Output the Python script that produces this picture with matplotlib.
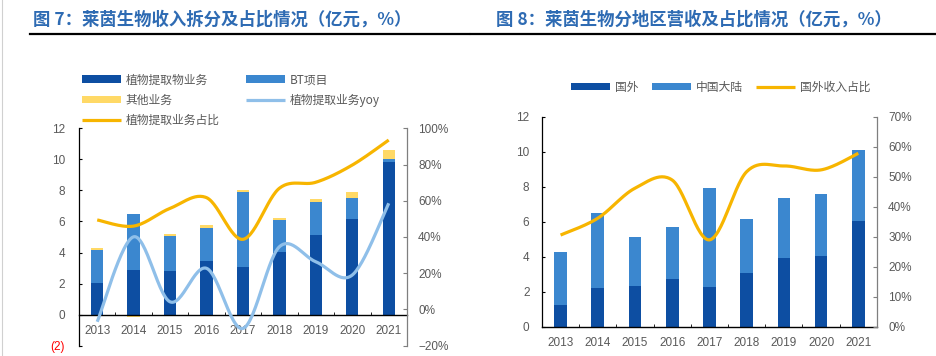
import numpy as np
import matplotlib
matplotlib.use('Agg')
import matplotlib.pyplot as plt
from matplotlib.lines import Line2D
from matplotlib.ticker import PercentFormatter

plt.rcParams['font.family'] = ['Liberation Sans', 'Noto Sans CJK SC', 'DejaVu Sans']

years = ['2013', '2014', '2015', '2016', '2017', '2018', '2019', '2020', '2021']

# 图7 收入拆分（亿元）
plant = [2.03, 2.87, 2.78, 3.43, 3.04, 4.03, 5.13, 6.16, 9.81]
bt = [2.13, 3.62, 2.26, 2.17, 4.85, 2.07, 2.13, 1.32, 0.21]
other = [0.13, -0.15, 0.13, 0.15, 0.15, 0.13, 0.18, 0.41, 0.56]
plant_yoy = [-6.8, 40.1, 4.2, 22.7, -10.5, 34.6, 26.3, 19.0, 58.6]
plant_share = [49.4, 46.0, 55.8, 61.7, 38.7, 66.9, 70.2, 79.7, 93.5]

# 图8 分地区营收（亿元）
overseas = [1.25, 2.24, 2.36, 2.72, 2.28, 3.10, 3.94, 4.07, 6.03]
mainland = [3.01, 4.24, 2.77, 2.98, 5.63, 3.08, 3.40, 3.50, 4.07]
overseas_share = [30.6, 36.2, 46.2, 48.9, 29.0, 51.7, 53.6, 52.3, 57.8]

DARK = '#0D4EA2'
MID = '#3B87CF'
YEL = '#FFD966'
GOLD = '#F7B500'
LIGHT = '#8FBFE9'
GREY = '#595959'
TITLE = '#2E6BB3'
CJK = ['Noto Sans CJK SC', 'DejaVu Sans']


def smooth(xs, ys, n=30):
    # Excel-style smoothed line (Bezier through the points)
    pts = np.column_stack([xs, ys]).astype(float)
    p = np.vstack([pts[0], pts, pts[-1]])
    t = np.linspace(0, 1, n)[:, None]
    segs = []
    for i in range(1, len(p) - 2):
        p0, p1, p2, p3 = p[i - 1], p[i], p[i + 1], p[i + 2]
        c1 = p1 + (p2 - p0) / 6
        c2 = p2 - (p3 - p1) / 6
        segs.append((1 - t) ** 3 * p1 + 3 * (1 - t) ** 2 * t * c1 + 3 * (1 - t) * t ** 2 * c2 + t ** 3 * p2)
    s = np.vstack(segs)
    return s[:, 0], s[:, 1]


def style_axes(ax, ax2, ypad, y2pad, xpad):
    for s in ['top', 'right']:
        ax.spines[s].set_visible(False)
    for s in ['top', 'left', 'bottom']:
        ax2.spines[s].set_visible(False)
    ax.spines['left'].set_color('black')
    ax.spines['left'].set_linewidth(0.9)
    ax.spines['bottom'].set_color('black')
    ax.spines['bottom'].set_linewidth(1.0)
    ax2.spines['right'].set_color('#7F7F7F')
    ax2.spines['right'].set_linewidth(0.9)
    ax.tick_params(axis='y', direction='in', length=2.5, pad=ypad, labelsize=8.5, labelcolor=GREY)
    ax2.tick_params(axis='y', direction='in', length=3, pad=y2pad, labelsize=8.5, labelcolor=GREY, color='#7F7F7F')
    ax.set_xticks(range(len(years)))
    ax.set_xticklabels(years)
    ax.set_xticks(np.arange(-0.5, len(years), 1.0), minor=True)
    ax.tick_params(axis='x', which='major', length=0, pad=xpad, labelsize=8.5, labelcolor=GREY)
    ax.tick_params(axis='x', which='minor', direction='in', length=2.5)
    ax.set_xlim(-0.5, len(years) - 0.5)


fig = plt.figure(figsize=(9.37, 3.56), dpi=100)
x = np.arange(len(years))
w = 0.34

# ---------- 图7 ----------
ax = fig.add_axes([0.0843, 0.029, 0.350, 0.6107])
ax2 = ax.twinx()
b1 = ax.bar(x, plant, w, color=DARK, label='植物提取物业务')
b2 = ax.bar(x, bt, w, bottom=plant, color=MID, label='BT项目')
ob = [p + b if o >= 0 else 0 for p, b, o in zip(plant, bt, other)]
b3 = ax.bar(x, other, w, bottom=ob, color=YEL, label='其他业务')
ax.set_ylim(-2, 12)
ax.set_yticks(range(-2, 13, 2))
ax.set_yticklabels(['(2)'] + [str(v) for v in range(0, 13, 2)])
ax.spines['bottom'].set_position(('data', 0))
sx, sy = smooth(x, plant_yoy)
l1, = ax2.plot(sx, sy, color=LIGHT, lw=2.3, solid_capstyle='butt', label='植物提取业务yoy')
sx, sy = smooth(x, plant_share)
l2, = ax2.plot(sx, sy, color=GOLD, lw=2.3, solid_capstyle='butt', label='植物提取业务占比')
ax2.set_ylim(-20, 100)
ax2.set_yticks(range(-20, 101, 20))
ax2.yaxis.set_major_formatter(PercentFormatter(decimals=0))
style_axes(ax, ax2, 10, 8, 7.5)
ax.get_yticklabels()[0].set_color('red')

leg = fig.legend([b1, b3, l2, b2, l1],
                 ['植物提取物业务', '其他业务', '植物提取业务占比', 'BT项目', '植物提取业务yoy'],
                 ncol=2, loc='upper left', bbox_to_anchor=(0.082, 0.807), frameon=False,
                 prop={'family': CJK, 'size': 8.5}, handlelength=3.3, handleheight=0.62,
                 handletextpad=0.4, columnspacing=2.3, labelspacing=0.62, borderaxespad=0)
for t in leg.get_texts():
    t.set_color(GREY)

# ---------- 图8 ----------
bx = fig.add_axes([0.5784, 0.0815, 0.3575, 0.5907])
bx2 = bx.twinx()
c1 = bx.bar(x, overseas, w, color=DARK, label='国外')
c2 = bx.bar(x, mainland, w, bottom=overseas, color=MID, label='中国大陆')
bx.set_ylim(0, 12)
bx.set_yticks(range(0, 13, 2))
sx, sy = smooth(x, overseas_share)
l3, = bx2.plot(sx, sy, color=GOLD, lw=2.3, solid_capstyle='butt', label='国外收入占比')
bx2.set_ylim(0, 70)
bx2.set_yticks(range(0, 71, 10))
bx2.yaxis.set_major_formatter(PercentFormatter(decimals=0))
style_axes(bx, bx2, 9, 8, 7.5)

leg2 = fig.legend([c1, c2, l3], ['国外', '中国大陆', '国外收入占比'],
                  ncol=3, loc='upper left', bbox_to_anchor=(0.6045, 0.787), frameon=False,
                  prop={'family': CJK, 'size': 8.5}, handlelength=3.3, handleheight=0.62,
                  handletextpad=0.4, columnspacing=1.15, borderaxespad=0)
for t in leg2.get_texts():
    t.set_color(GREY)

# ---------- titles ----------
fig.text(0.035, 0.944, '图 7：莱茵生物收入拆分及占比情况（亿元，%）', family=CJK,
         fontsize=12.5, fontweight='bold', color=TITLE, va='center', ha='left')
fig.text(0.529, 0.944, '图 8：莱茵生物分地区营收及占比情况（亿元，%）', family=CJK,
         fontsize=12.5, fontweight='bold', color=TITLE, va='center', ha='left')
fig.add_artist(Line2D([30 / 937, 469 / 937], [1 - 33.5 / 356] * 2, color='black', lw=1.6))
fig.add_artist(Line2D([471 / 937, 935 / 937], [1 - 33.5 / 356] * 2, color='black', lw=1.6))
fig.add_artist(Line2D([2 / 937, 2 / 937], [0, 1], color='#D0D0D0', lw=0.8))

fig.savefig('out.png', dpi=100)
